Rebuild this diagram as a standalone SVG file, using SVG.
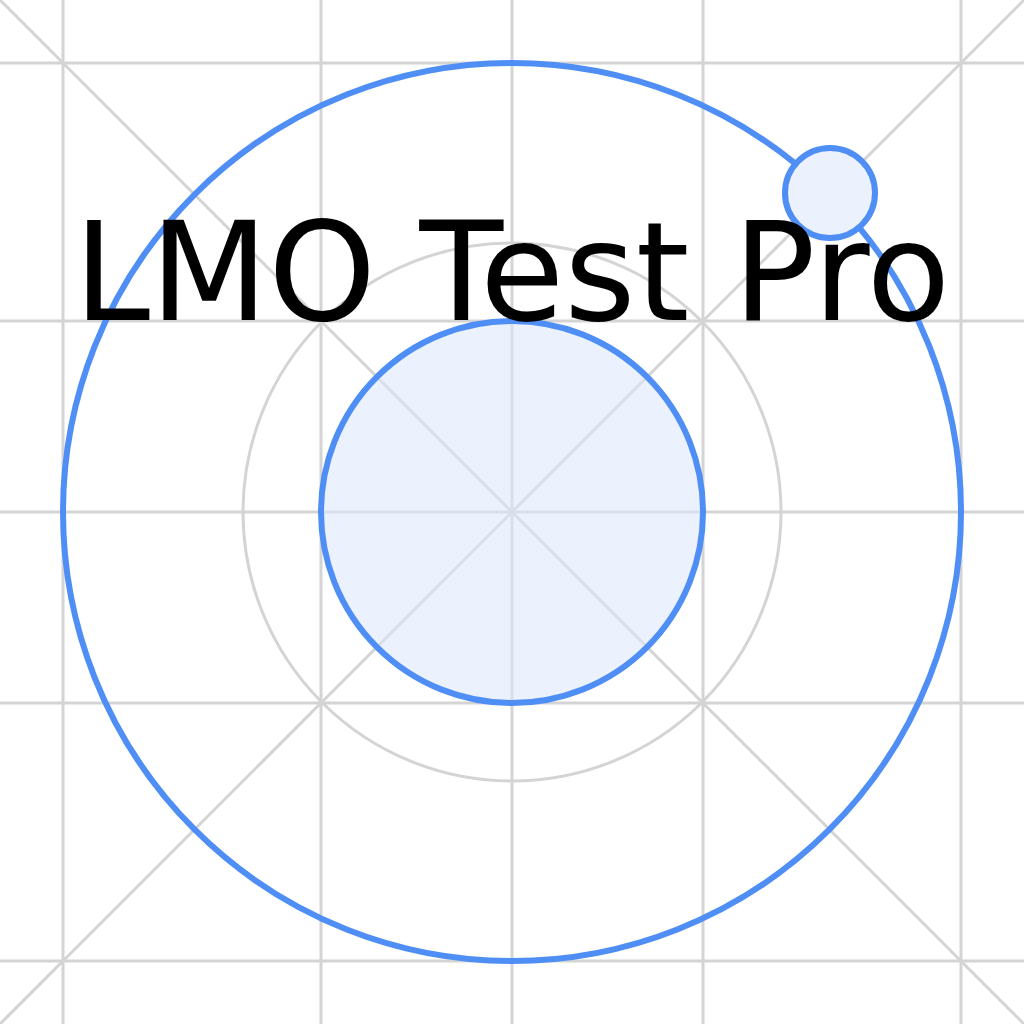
<svg xmlns="http://www.w3.org/2000/svg" width="1024" height="1024" viewBox="0 0 1024 1024">
<style>
.g{stroke:#d4d4d4;stroke-width:3;fill:none}
.b{stroke:#4f8ff5;stroke-width:6;}
</style>
<rect width="1024" height="1024" fill="#fff"/>
<g id="grid">
<line class="g" x1="63" y1="0" x2="63" y2="1024"/>
<line class="g" x1="321" y1="0" x2="321" y2="1024"/>
<line class="g" x1="512" y1="0" x2="512" y2="1024"/>
<line class="g" x1="703" y1="0" x2="703" y2="1024"/>
<line class="g" x1="961" y1="0" x2="961" y2="1024"/>
<line class="g" x1="0" y1="63" x2="1024" y2="63"/>
<line class="g" x1="0" y1="321" x2="1024" y2="321"/>
<line class="g" x1="0" y1="512" x2="1024" y2="512"/>
<line class="g" x1="0" y1="703" x2="1024" y2="703"/>
<line class="g" x1="0" y1="961" x2="1024" y2="961"/>
<line class="g" x1="0" y1="0" x2="1024" y2="1024"/>
<line class="g" x1="1024" y1="0" x2="0" y2="1024"/>
<circle class="g" cx="512" cy="512" r="269"/>
</g>
<g id="outer"><circle class="b" cx="512" cy="512" r="449" fill="none"/></g>
<g id="core"><circle class="b" cx="512" cy="512" r="191" fill="#dbe6fb" fill-opacity="0.55"/></g>
<g id="satellite"><circle class="b" cx="830" cy="193" r="45" fill="#ebf1fd"/></g>
<text x="512" y="320" text-anchor="middle" font-family="DejaVu Sans, sans-serif" font-size="137" fill="#000">LMO Test Pro</text>
</svg>
